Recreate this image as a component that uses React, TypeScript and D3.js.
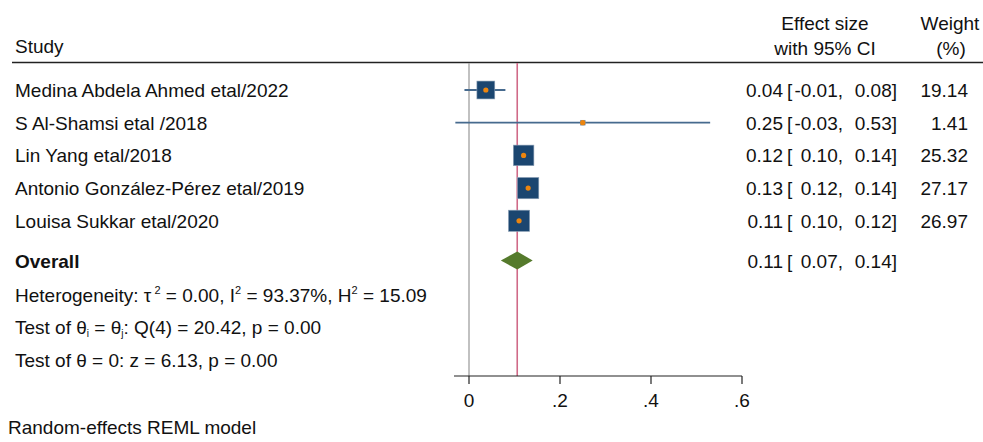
import React from "react";
import * as d3 from "d3";

const studies = [
  "Medina Abdela Ahmed etal/2022",
  "S Al-Shamsi etal /2018",
  "Lin Yang etal/2018",
  "Antonio González-Pérez etal/2019",
  "Louisa Sukkar etal/2020",
];
const estimates = [0.037, 0.25, 0.12, 0.13, 0.11];
const lowers = [-0.01, -0.03, 0.1, 0.12, 0.1];
const uppers = [0.08, 0.53, 0.14, 0.14, 0.12];
const estLabels = ["0.04", "0.25", "0.12", "0.13", "0.11"];
const lowLabels = ["-0.01", "-0.03", "0.10", "0.12", "0.10"];
const upLabels = ["0.08", "0.53", "0.14", "0.14", "0.12"];
const weights = ["19.14", "1.41", "25.32", "27.17", "26.97"];

const overall = { est: 0.106, lo: 0.07, hi: 0.14, label: ["0.11", "0.07", "0.14"] };
const xTicks = [0, 0.2, 0.4, 0.6];

const W = 983;
const H = 442;
const FONT = "'Liberation Sans', Arial, sans-serif";

export default function App() {
  const x = d3.scaleLinear().domain([0, 0.6]).range([469, 742]);
  const rowY = d3.scaleLinear().domain([0, 1]).range([90, 122.7]);
  const overallY = 260.5;
  const axisY = 376;
  const size = d3.scaleSqrt().domain([0, 27.17]).range([0, 21.3]);
  const dy = 7;

  const fmtTick = (v: number) => (v === 0 ? "0" : d3.format(".1f")(v).replace(/^0/, ""));

  return (
    <svg
      width={W}
      height={H}
      style={{ position: "absolute", left: 0, top: 0, background: "#fff" }}
      fontFamily={FONT}
      fontSize={19}
      fill="#111"
    >
      {/* headers */}
      <text x={15} y={53}>Study</text>
      <text x={825} y={30} textAnchor="middle">Effect size</text>
      <text x={825} y={55} textAnchor="middle">with 95% CI</text>
      <text x={950} y={30} textAnchor="middle">Weight</text>
      <text x={951} y={55} textAnchor="middle">(%)</text>
      <line x1={12} x2={W} y1={62.5} y2={62.5} stroke="#222" strokeWidth={1.3} />

      {/* reference lines */}
      <line x1={x(0)} x2={x(0)} y1={63} y2={axisY} stroke="#a0a0a0" strokeWidth={1.3} />
      <line x1={x(overall.est)} x2={x(overall.est)} y1={63} y2={axisY} stroke="#d06a88" strokeWidth={1.6} />

      {/* study rows */}
      {studies.map((s, i) => {
        const y = rowY(i);
        const side = size(+weights[i]);
        return (
          <g key={s}>
            <text x={15} y={y + dy}>{s}</text>
            <line x1={x(lowers[i])} x2={x(uppers[i])} y1={y} y2={y} stroke="#466a8e" strokeWidth={1.8} />
            <rect
              x={x(estimates[i]) - side / 2}
              y={y - side / 2}
              width={side}
              height={side}
              fill="#1b4670"
              stroke="#8fa3b8"
              strokeWidth={0.6}
            />
            <circle cx={x(estimates[i])} cy={y} r={2.6} fill="#ec850f" />
            <text x={783} y={y + dy} textAnchor="end">{estLabels[i]}</text>
            <text x={787} y={y + dy}>[</text>
            <text x={843} y={y + dy} textAnchor="end">{lowLabels[i]},</text>
            <text x={897} y={y + dy} textAnchor="end">{upLabels[i]}]</text>
            <text x={968} y={y + dy} textAnchor="end">{weights[i]}</text>
          </g>
        );
      })}

      {/* overall */}
      <text x={15} y={overallY + dy} fontWeight="bold">Overall</text>
      <path
        d={`M${x(overall.lo)},${overallY} L${x(overall.est)},${overallY - 9} L${x(overall.hi)},${overallY} L${x(overall.est)},${overallY + 9} Z`}
        fill="#557a2c"
      />
      <text x={783} y={overallY + dy} textAnchor="end">{overall.label[0]}</text>
      <text x={787} y={overallY + dy}>[</text>
      <text x={843} y={overallY + dy} textAnchor="end">{overall.label[1]},</text>
      <text x={897} y={overallY + dy} textAnchor="end">{overall.label[2]}]</text>

      {/* statistics */}
      <text x={15} y={302}>
        Heterogeneity: τ
        <tspan dy={-8} fontSize={11}> 2</tspan>
        <tspan dy={8}> = 0.00, I</tspan>
        <tspan dy={-8} fontSize={11}>2</tspan>
        <tspan dy={8}> = 93.37%, H</tspan>
        <tspan dy={-8} fontSize={11}>2</tspan>
        <tspan dy={8}> = 15.09</tspan>
      </text>
      <text x={15} y={334}>
        Test of θ
        <tspan dy={3} fontSize={10}>i</tspan>
        <tspan dy={-3}> = θ</tspan>
        <tspan dy={3} fontSize={10}>j</tspan>
        <tspan dy={-3}>: Q(4) = 20.42, p = 0.00</tspan>
      </text>
      <text x={15} y={367}>Test of θ = 0: z = 6.13, p = 0.00</text>

      {/* x axis */}
      <line x1={x(-0.033)} x2={x(0.6)} y1={axisY} y2={axisY} stroke="#222" strokeWidth={1.2} />
      {xTicks.map((t) => (
        <g key={t}>
          <line x1={x(t)} x2={x(t)} y1={axisY} y2={axisY + 8} stroke="#222" strokeWidth={1.2} />
          <text x={x(t)} y={axisY + 31} textAnchor="middle">{fmtTick(t)}</text>
        </g>
      ))}

      <text x={8} y={434}>Random-effects REML model</text>
    </svg>
  );
}
